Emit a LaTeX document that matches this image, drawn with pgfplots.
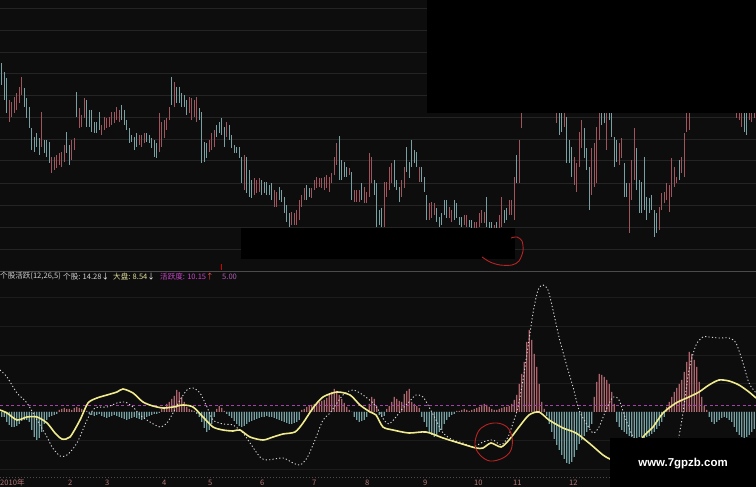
\documentclass[border=0pt]{standalone}
\usepackage{pgfplots}
\pgfplotsset{compat=1.18}
\usepackage{pgfplotstable}
\usepackage{fontspec}
\setmainfont{Liberation Sans}
\newfontfamily\cjk{Noto Sans CJK SC}

\definecolor{bg}{RGB}{13,13,13}
\definecolor{gridc}{RGB}{36,36,36}
\definecolor{gridb}{RGB}{28,28,28}
\definecolor{sepc}{RGB}{75,75,75}
\definecolor{upc}{RGB}{160,85,92}
\definecolor{dnc}{RGB}{120,160,163}
\definecolor{hup}{RGB}{175,100,108}
\definecolor{hdn}{RGB}{115,160,162}
\definecolor{yl}{RGB}{240,235,140}
\definecolor{dotc}{RGB}{215,215,215}
\definecolor{mag}{RGB}{165,65,170}
\definecolor{txt}{RGB}{210,210,210}
\definecolor{dptxt}{RGB}{230,225,160}
\definecolor{hytxt}{RGB}{200,70,200}
\definecolor{axt}{RGB}{185,120,120}
\definecolor{pen}{RGB}{185,35,35}

% pixel-sized panel: 1bp = 1px of the 756x487 screenshot
\pgfplotsset{pix/.style={width=756bp, height=487bp, scale only axis, hide axis,
  xmin=0, xmax=756, at={(0,0)}, anchor=south west, clip=true}}

% candles: top and bottom of each bar (screen rows), u=1 red / u=0 cyan
\pgfplotstableread[row sep=\\]{
t b u\\
63 85 0\\ 72 100 0\\ 78 113 0\\ 100 122 1\\ 102 117 1\\ 97 113 1\\ 93 110 1\\ 87 103 1\\ 77 95 1\\ 88 107 0\\
98 118 0\\ 107 128 0\\ 128 150 0\\ 137 152 0\\ 133 147 0\\ 138 155 0\\ 112 147 1\\ 140 153 0\\ 140 157 0\\ 142 163 0\\
157 173 1\\ 157 170 1\\ 155 168 1\\ 153 165 1\\ 152 167 1\\ 145 162 1\\ 132 153 0\\ 145 165 0\\ 140 160 1\\ 138 150 1\\
92 117 0\\ 108 128 1\\ 115 127 1\\ 98 118 1\\ 100 127 0\\ 110 127 0\\ 110 132 0\\ 122 133 0\\ 122 133 0\\ 112 130 0\\
125 135 1\\ 117 130 1\\ 118 128 1\\ 117 127 1\\ 112 125 1\\ 112 123 1\\ 107 120 1\\ 110 122 1\\ 105 120 0\\ 110 125 0\\
120 130 0\\ 128 143 0\\ 135 142 0\\ 137 150 0\\ 133 147 0\\ 135 145 1\\ 135 147 1\\ 133 143 1\\ 133 142 0\\ 135 143 0\\
138 148 0\\ 140 157 0\\ 143 158 0\\ 113 152 1\\ 122 147 1\\ 120 138 1\\ 118 130 1\\ 107 120 1\\ 77 105 0\\ 82 107 1\\
87 103 0\\ 87 103 0\\ 93 107 0\\ 95 107 0\\ 100 115 0\\ 97 113 1\\ 98 120 1\\ 100 117 1\\ 97 122 1\\ 108 120 0\\
112 163 0\\ 142 162 0\\ 143 158 0\\ 140 152 1\\ 133 150 1\\ 130 147 1\\ 125 137 0\\ 122 133 0\\ 118 135 0\\ 127 147 0\\
122 137 1\\ 125 140 0\\ 135 148 0\\ 145 153 0\\ 147 153 0\\ 147 158 0\\ 157 183 0\\ 155 190 1\\ 157 193 0\\ 170 197 0\\
180 198 0\\ 178 195 1\\ 180 193 1\\ 178 192 1\\ 180 195 0\\ 182 193 0\\ 182 195 0\\ 185 195 0\\ 183 200 0\\ 190 207 1\\
192 207 1\\ 187 200 0\\ 190 202 0\\ 197 213 0\\ 205 222 0\\ 213 227 0\\ 212 225 1\\ 213 225 1\\ 210 225 1\\ 200 220 1\\
195 207 1\\ 188 200 1\\ 185 200 0\\ 188 197 0\\ 188 198 1\\ 180 190 1\\ 177 188 1\\ 178 187 1\\ 178 188 1\\ 177 190 1\\
175 188 1\\ 177 192 1\\ 173 183 1\\ 157 175 1\\ 143 165 1\\ 136 180 0\\ 160 180 0\\ 162 177 0\\ 167 177 0\\ 168 175 1\\
172 200 0\\ 190 202 1\\ 190 202 1\\ 190 202 1\\ 183 200 0\\ 187 203 1\\ 192 203 1\\ 153 197 1\\ 157 183 1\\ 180 195 0\\
183 227 0\\ 210 225 0\\ 208 227 0\\ 182 227 1\\ 182 197 1\\ 167 190 1\\ 163 183 1\\ 160 187 0\\ 180 190 0\\ 187 202 0\\
180 197 1\\ 167 188 1\\ 147 172 0\\ 162 178 0\\ 140 167 0\\ 150 163 0\\ 152 167 0\\ 167 182 1\\ 167 182 0\\ 177 192 0\\
195 220 0\\ 203 220 1\\ 202 218 1\\ 203 215 1\\ 208 222 0\\ 217 227 0\\ 213 225 0\\ 200 215 0\\ 200 218 0\\ 207 218 1\\
210 222 1\\ 200 220 0\\ 203 218 0\\ 217 225 0\\ 217 227 0\\ 215 225 1\\ 215 227 1\\ 220 227 0\\ 220 228 0\\ 222 228 1\\
222 228 1\\ 213 227 1\\ 210 223 1\\ 212 223 1\\ 197 227 0\\ 222 228 0\\ 222 240 0\\ 225 240 1\\ 222 238 0\\ 215 235 1\\
197 227 1\\ 210 223 0\\ 208 220 0\\ 200 215 1\\ 200 215 1\\ 177 220 1\\ 155 183 0\\ 140 183 1\\ 100 128 1\\ 90 112 1\\
85 105 1\\ 80 100 1\\ 75 98 0\\ 70 95 1\\ 68 90 1\\ 72 95 0\\ 75 100 0\\ 70 92 1\\ 68 88 1\\ 72 95 0\\
80 104 0\\ 90 110 0\\ 100 123 1\\ 105 135 0\\ 103 132 0\\ 100 127 1\\ 117 163 0\\ 140 163 0\\ 147 177 0\\ 157 185 1\\
163 192 1\\ 132 167 1\\ 120 148 1\\ 128 158 0\\ 148 170 0\\ 167 210 0\\ 148 195 1\\ 143 187 1\\ 127 183 1\\ 105 140 1\\
100 125 0\\ 100 123 0\\ 105 150 1\\ 100 120 0\\ 105 137 0\\ 137 167 0\\ 140 162 0\\ 143 165 1\\ 138 158 1\\ 163 197 0\\
183 197 0\\ 183 233 1\\ 160 200 1\\ 128 180 1\\ 148 190 0\\ 180 213 0\\ 182 213 0\\ 157 210 0\\ 197 220 0\\ 198 213 0\\
195 210 0\\ 210 237 0\\ 213 233 0\\ 207 230 1\\ 193 210 1\\ 192 203 1\\ 183 200 1\\ 185 212 1\\ 158 197 1\\ 167 187 1\\
177 183 1\\ 160 180 0\\ 157 173 1\\ 133 177 1\\ 100 132 1\\ 100 130 1\\ 80 105 1\\ 75 100 0\\ 70 95 1\\ 65 90 1\\
60 85 1\\ 62 88 0\\ 58 80 1\\ 55 78 1\\ 60 85 0\\ 65 90 0\\ 62 88 1\\ 58 82 1\\ 60 84 0\\ 65 90 0\\
70 95 0\\ 75 100 1\\ 80 105 1\\ 90 112 1\\ 100 118 1\\ 100 120 1\\ 100 127 1\\ 100 132 0\\ 105 135 0\\ 100 120 1\\
100 122 1\\ 100 118 1\\
}\candles

% indicator histogram, one value per bar
\pgfplotstableread[row sep=\\]{
h\\
-5\\ -5\\ -10\\ -13\\ -15\\ -15\\ -14\\ -12\\ -9\\ -8\\ -8\\ -10\\ -18\\ -25\\ -28\\ -26\\ -20\\
-12\\ -8\\ -5\\ -4\\ -3\\ -2\\ 2\\ 3\\ 4\\ 3\\ 3\\ 2\\ 4\\ 5\\ 4\\ 3\\ 2\\ 1\\ -2\\ -3\\ -4\\ -3\\ -2\\
-4\\ -5\\ -6\\ -5\\ -4\\ -3\\ -4\\ -5\\ -6\\ -7\\ -8\\ -7\\ -6\\ -5\\ -6\\ -7\\ -8\\ -6\\ -5\\ -4\\ -3\\ -2\\ -2\\ -1\\
3\\ 5\\ 8\\ 10\\ 13\\ 16\\ 22\\ 20\\ 15\\ 10\\ 5\\ 3\\ 2\\ 1\\ -2\\ -5\\ -10\\ -16\\ -20\\ -18\\ -12\\ -5\\ 3\\ 6\\ 4\\ 1\\ -2\\ -4\\
-6\\ -9\\ -12\\ -14\\ -15\\ -14\\ -12\\ -10\\ -9\\ -8\\ -7\\ -6\\ -5\\ -5\\ -4\\ -5\\ -5\\ -6\\ -7\\ -8\\ -9\\ -10\\ -11\\ -12\\ -12\\ -11\\ -10\\ -8\\
2\\ 3\\ 5\\ 6\\ 7\\ 8\\ 9\\ 10\\ 11\\ 12\\ 14\\ 17\\ 20\\ 23\\ 21\\ 17\\ 13\\ 9\\ 5\\ 2\\ 0\\
-5\\ -8\\ -10\\ -9\\ -8\\ -5\\ 8\\ 15\\ 13\\ 6\\ -3\\ -5\\ -4\\
3\\ 6\\ 10\\ 15\\ 13\\ 11\\ 10\\ 18\\ 21\\ 23\\ 10\\ 8\\ 6\\ 4\\
-5\\ -10\\ -15\\ -20\\ -23\\ -25\\ -23\\ -20\\ -18\\ -12\\ -8\\ -5\\ -3\\ -2\\
1\\ 1\\ 2\\ 3\\ 2\\ 1\\ 2\\ 3\\ 4\\ 5\\ 7\\ 8\\ 7\\ 5\\ 3\\ 2\\ 2\\ 3\\ 4\\ 5\\ 5\\ 6\\ 8\\ 12\\
17\\ 28\\ 38\\ 50\\ 70\\ 82\\ 72\\ 58\\ 45\\ 28\\ 10\\ 3\\
-4\\ -12\\ -20\\ -27\\ -33\\ -38\\ -43\\ -47\\ -51\\ -52\\ -50\\ -45\\ -38\\ -32\\ -28\\ -24\\ -20\\ -16\\ -12\\
15\\ 30\\ 38\\ 37\\ 35\\ 32\\ 28\\ 20\\ 8\\
-10\\ -15\\ -18\\ -20\\ -22\\ -24\\ -25\\ -26\\ -26\\ -25\\ -25\\ -26\\ -25\\ -24\\ -22\\ -20\\ -17\\ -14\\ -10\\
-5\\ 5\\ 10\\ 15\\ 20\\ 24\\ 28\\ 32\\ 40\\ 50\\ 60\\ 58\\ 52\\ 45\\ 30\\ 15\\ 6\\ 2\\
-5\\ -10\\ -12\\ -10\\ -8\\ -6\\ -5\\ -6\\ -8\\ -10\\ -15\\ -20\\ -23\\ -25\\ -26\\ -25\\ -23\\ -20\\ -17\\
}\hist

\begin{document}
\begin{tikzpicture}

% ---- price panel (screen rows, y down) ----
\begin{axis}[pix, ymin=0, ymax=487, y dir=reverse]
  \addplot[fill=bg, draw=none] coordinates {(0,0) (756,0) (756,487) (0,487)} --cycle;
  \pgfplotsinvokeforeach{8,30,52,73,95,117,139,160,183,205,227,249}{
    \addplot[gridc, line width=0.6bp] coordinates {(0,#1) (756,#1)};
  }
  \pgfplotsinvokeforeach{297,326,355,383,440,469}{
    \addplot[gridb, line width=0.6bp] coordinates {(0,#1) (756,#1)};
  }
  \addplot[sepc, line width=0.8bp] coordinates {(0,271.5) (756,271.5)};
  \addplot[sepc, line width=0.6bp, dash pattern=on 1bp off 2bp] coordinates {(0,477.5) (756,477.5)};

  \addplot[draw=none, mark=none, error bars/.cd, y dir=plus, y explicit, error mark=none,
    error bar style={draw=upc, line width=1.2bp}]
    table[x expr=1.7+2.5*\coordindex, y=t, y error expr=\thisrow{u}*(\thisrow{b}-\thisrow{t})] {\candles};
  \addplot[draw=none, mark=none, error bars/.cd, y dir=plus, y explicit, error mark=none,
    error bar style={draw=dnc, line width=1.2bp}]
    table[x expr=1.7+2.5*\coordindex, y=t, y error expr=(1-\thisrow{u})*(\thisrow{b}-\thisrow{t})] {\candles};

  \addplot[red!85!black, line width=1.8bp] coordinates {(221.5,263.5) (221.5,270)};
  % blacked-out regions of the screenshot
  \addplot[fill=black, draw=none] coordinates {(427,0) (756,0) (756,113) (427,113)} --cycle;
  \addplot[fill=black, draw=none] coordinates {(241,228) (515,228) (515,259) (241,259)} --cycle;
  \addplot[pen, line width=0.9bp, smooth] coordinates {(482,257) (490,262) (500,265) (512,265) (519,261) (523,251) (522,241) (517,237) (511,238)};
\end{axis}

% ---- indicator panel (baseline at row 412) ----
\begin{axis}[pix, ymin=-75, ymax=412]
  \addplot[ybar, bar width=1.1bp, bar shift=0pt, fill=hup, draw=none]
    table[x index=0, y index=0, x expr=1.7+2.5*\coordindex, y expr={max(\thisrow{h},0)}] {\hist};
  \addplot[ybar, bar width=1.1bp, bar shift=0pt, fill=hdn, draw=none]
    table[x index=0, y index=0, x expr=1.7+2.5*\coordindex, y expr={min(\thisrow{h},0)}] {\hist};
  \addplot[mag, line width=0.9bp, dash pattern=on 3bp off 2.5bp] coordinates {(0,7) (756,7)};
  % white dotted line
  \addplot[dotc, line width=0.9bp, dash pattern=on 1.2bp off 2.2bp, smooth, tension=0.45] coordinates {
    (0,42) (7,35) (17,19) (27,9) (37,-8) (47,-25) (52,-35) (60,-44) (67,-43) (77,-31)
    (87,-8) (95,4) (107,5) (117,9) (125,10) (133,5) (140,-3) (150,-10) (160,-15) (167,-11)
    (173,-1) (180,12) (187,22) (193,24) (200,19) (207,5) (213,-8) (223,-12) (233,-13) (243,-21)
    (250,-31) (260,-45) (267,-48) (283,-46) (293,-51) (300,-53) (307,-46) (315,-28) (323,-8) (330,-1)
    (343,17) (353,22) (363,17) (373,9) (379,1) (384,-8) (389,-12) (396,-5) (403,4) (409,10)
    (416,17) (423,15) (429,5) (436,-8) (443,-21) (453,-28) (463,-31) (473,-35) (483,-30) (493,-28)
    (501,-33) (508,-25) (513,-11) (518,5) (523,32) (528,65) (533,99) (538,122) (543,127) (548,122)
    (553,102) (559,75) (566,49) (573,25) (579,2) (586,-11) (593,-21) (599,-15) (606,2) (613,15)
    (619,12) (626,-8) (633,-25) (645,-50) (660,-56) (672,-40) (678,-28) (683,-1) (689,42) (696,67)
    (703,75) (709,75) (719,74) (729,74) (736,69) (743,49) (749,29) (756,19)};
  % yellow line
  \addplot[yl, line width=1.6bp, smooth, tension=0.45] coordinates {
    (0,2) (7,-1) (17,-8) (27,-5) (37,-5) (47,-11) (55,-21) (62,-27) (70,-25) (80,-8)
    (88,9) (97,14) (107,17) (117,20) (123,23) (133,19) (143,10) (153,6) (163,4) (173,5)
    (183,7) (193,5) (203,-5) (213,-15) (223,-18) (233,-19) (240,-18) (250,-25) (263,-28) (273,-25)
    (283,-22) (295,-20) (303,-11) (313,4) (323,15) (337,20) (350,17) (360,7) (370,0) (376,-3)
    (383,-15) (393,-18) (409,-21) (426,-20) (443,-26) (459,-31) (476,-36) (483,-36) (491,-31) (501,-35)
    (509,-28) (519,-15) (529,-3) (539,0) (549,-8) (563,-16) (576,-21) (589,-31) (603,-43) (610,-47)
    (620,-50) (632,-43) (643,-25) (653,-15) (663,-1) (676,9) (689,15) (699,20) (709,27) (719,32)
    (729,31) (739,27) (749,20) (756,14)};
\end{axis}

% ---- overlays and text (screen rows, y down) ----
\begin{axis}[pix, ymin=0, ymax=487, y dir=reverse]
  \addplot[fill=black, draw=none] coordinates {(610,438) (756,438) (756,487) (610,487)} --cycle;
  \addplot[pen, line width=0.9bp, smooth cycle, tension=0.6] coordinates {
    (478,432) (486,425) (497,423) (507,427) (512,437) (511,450) (503,458) (490,461) (480,455) (475,445)};
  \node[text=white, font=\bfseries\fontsize{11.5}{12}\selectfont] at (axis cs:683,463.5) {www.7gpzb.com};

  \begin{scope}[every node/.style={inner sep=0pt, anchor=west, font=\cjk\fontsize{7.6}{8}\selectfont}]
    \node[text=txt] at (axis cs:0,276.5) {个股活跃(12,26,5)};
    \node[text=txt] at (axis cs:63,276.5) {个股: 14.28\textcolor{white}{↓}};
    \node[text=dptxt] at (axis cs:113,276.5) {大盘: 8.54\textcolor{white}{↓}};
    \node[text=hytxt] at (axis cs:160,276.5) {活跃度: 10.15\textcolor{red!70!white}{↑}};
    \node[text=mag!85!white] at (axis cs:222,276.5) {5.00};

    \node[text=axt] at (axis cs:0,483) {2010年};
    \node[text=axt] at (axis cs:68,483) {2};
    \node[text=axt] at (axis cs:105,483) {3};
    \node[text=axt] at (axis cs:162,483) {4};
    \node[text=axt] at (axis cs:208,483) {5};
    \node[text=axt] at (axis cs:260,483) {6};
    \node[text=axt] at (axis cs:312,483) {7};
    \node[text=axt] at (axis cs:365,483) {8};
    \node[text=axt] at (axis cs:423,483) {9};
    \node[text=axt] at (axis cs:474,483) {10};
    \node[text=axt] at (axis cs:513,483) {11};
    \node[text=axt] at (axis cs:569,483) {12};
  \end{scope}
\end{axis}

\end{tikzpicture}
\end{document}
